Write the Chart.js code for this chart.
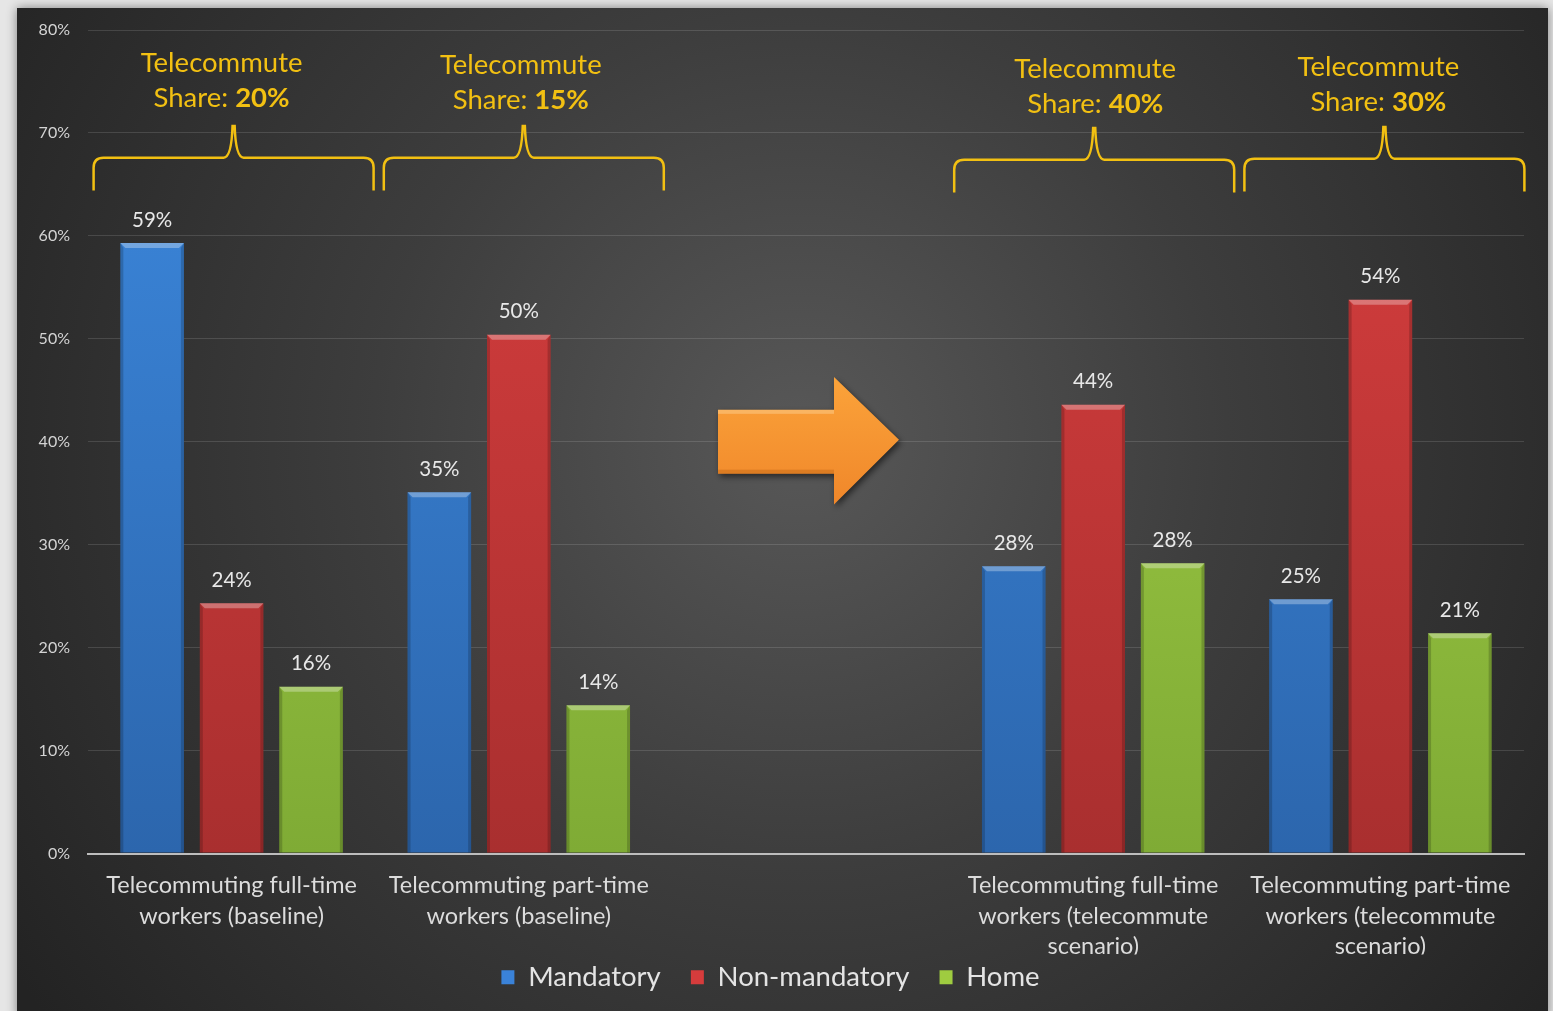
<!DOCTYPE html>
<html>
<head>
<meta charset="utf-8">
<script src="https://cdn.jsdelivr.net/npm/chart.js@4.4.1/dist/chart.umd.min.js"></script>
<style>
  html, body { margin: 0; padding: 0; background: #e4e4e4; }
  #wrap { width: 1553px; height: 1011px; position: relative; }
</style>
</head>
<body>
<div id="wrap"><canvas id="chart" width="1553" height="1011"></canvas></div>
<script>
// Categorias (a do meio fica vazia, é onde vai a seta)
const categories = [
    ['Telecommuting full-time', 'workers (baseline)'],
    ['Telecommuting part-time', 'workers (baseline)'],
    '',
    ['Telecommuting full-time', 'workers (telecommute', 'scenario)'],
    ['Telecommuting part-time', 'workers (telecommute', 'scenario)']
];

// Valores em %
const mandatory    = [59.3, 35.1, null, 27.9, 24.7];
const nonMandatory = [24.3, 50.4, null, 43.6, 53.8];
const home         = [16.2, 14.4, null, 28.2, 21.4];

// Participação do teletrabalho por grupo (chaves em cima das barras)
const shareCategory = [0, 1, 3, 4];
const shareValues   = [20, 15, 40, 30];

const yTicks = [0, 10, 20, 30, 40, 50, 60, 70, 80];

const FONT = 'Lato, "Open Sans", sans-serif';
const GOLD = '#f2c012';

// ajustes finos de cada chave: deslocamento da chave, do texto e vertical
const bracketDx = [2, 5, 1, 4];
const textDx    = [-12, -3, 1, -6];
const bracketDy = [0, 0, 2, 1];
const textDy    = [0, 2, 6, 4];

// Gradiente vertical para as barras
function barGradient(top, bottom) {
    return function(context) {
        const area = context.chart.chartArea;
        if (!area) return bottom;
        const g = context.chart.ctx.createLinearGradient(0, area.top, 0, area.bottom);
        g.addColorStop(0, top);
        g.addColorStop(1, bottom);
        return g;
    };
}

// Fundo: moldura clara + painel escuro com gradiente radial
const backgroundPlugin = {
    id: 'panelBackground',
    beforeDraw(chart) {
        const ctx = chart.ctx;
        ctx.save();
        ctx.fillStyle = '#e6e6e6';
        ctx.fillRect(0, 0, chart.width, chart.height);
        ctx.shadowColor = 'rgba(0,0,0,0.45)';
        ctx.shadowBlur = 10;
        ctx.fillStyle = '#2a2a2a';
        ctx.fillRect(17, 8, 1531, 1010);
        ctx.shadowBlur = 0;
        const g = ctx.createRadialGradient(800, 440, 0, 800, 440, 950);
        g.addColorStop(0, '#585858');
        g.addColorStop(0.45, '#3d3d3d');
        g.addColorStop(1, '#232323');
        ctx.fillStyle = g;
        ctx.fillRect(17, 8, 1531, 1010);
        ctx.restore();
    }
};

// Relevo das barras (borda de cima mais clara, laterais escuras)
const bevelPlugin = {
    id: 'barBevel',
    afterDatasetsDraw(chart) {
        const ctx = chart.ctx;
        ctx.save();
        chart.data.datasets.forEach((ds, i) => {
            chart.getDatasetMeta(i).data.forEach((bar, j) => {
                if (ds.data[j] == null) return;
                const p = bar.getProps(['x', 'y', 'base', 'width'], true);
                const l = p.x - p.width / 2, r = p.x + p.width / 2, t = p.y, b = p.base;
                const bev = 5;
                ctx.fillStyle = 'rgba(255,255,255,0.3)';
                ctx.beginPath();
                ctx.moveTo(l, t); ctx.lineTo(r, t); ctx.lineTo(r - bev, t + bev); ctx.lineTo(l + bev, t + bev);
                ctx.closePath(); ctx.fill();
                ctx.fillStyle = 'rgba(0,0,0,0.18)';
                ctx.beginPath();
                ctx.moveTo(l, t); ctx.lineTo(l + 3, t + bev); ctx.lineTo(l + 3, b); ctx.lineTo(l, b);
                ctx.closePath(); ctx.fill();
                ctx.beginPath();
                ctx.moveTo(r, t); ctx.lineTo(r - 3, t + bev); ctx.lineTo(r - 3, b); ctx.lineTo(r, b);
                ctx.closePath(); ctx.fill();
            });
        });
        ctx.restore();
    }
};

// Rótulos com o valor em cima de cada barra
const valueLabelPlugin = {
    id: 'valueLabels',
    afterDatasetsDraw(chart) {
        const ctx = chart.ctx;
        ctx.save();
        ctx.font = '20.5px ' + FONT;
        ctx.fillStyle = '#e8e8e8';
        ctx.textAlign = 'center';
        ctx.textBaseline = 'middle';
        chart.data.datasets.forEach((ds, i) => {
            chart.getDatasetMeta(i).data.forEach((bar, j) => {
                const v = ds.data[j];
                if (v == null) return;
                ctx.fillText(Math.round(v) + '%', bar.x, bar.y - 23);
            });
        });
        ctx.restore();
    }
};

// Chaves douradas com "Telecommute Share" e a seta laranja no meio
const annotationPlugin = {
    id: 'shareBrackets',
    afterDraw(chart) {
        const ctx = chart.ctx;
        const xs = chart.scales.x, ys = chart.scales.y;
        const half = 140;
        ctx.save();
        shareCategory.forEach((c, k) => {
            const cx = xs.getPixelForValue(c) + bracketDx[k];
            const dy = bracketDy[k];
            const yLine = ys.getPixelForValue(67.6) + dy;
            const yTop = ys.getPixelForValue(70.8) + dy;
            const yBot = ys.getPixelForValue(64.4) + dy;
            const rr = 10;
            ctx.strokeStyle = GOLD;
            ctx.lineWidth = 2.5;
            ctx.beginPath();
            ctx.moveTo(cx - half, yBot);
            ctx.lineTo(cx - half, yLine + rr);
            ctx.quadraticCurveTo(cx - half, yLine, cx - half + rr, yLine);
            ctx.lineTo(cx - 10, yLine);
            ctx.quadraticCurveTo(cx - 2, yLine, cx - 1, yTop);
            ctx.moveTo(cx + 1, yTop);
            ctx.quadraticCurveTo(cx + 2, yLine, cx + 10, yLine);
            ctx.lineTo(cx + half - rr, yLine);
            ctx.quadraticCurveTo(cx + half, yLine, cx + half, yLine + rr);
            ctx.lineTo(cx + half, yBot);
            ctx.stroke();

            const tx = cx + textDx[k];
            ctx.fillStyle = GOLD;
            ctx.textBaseline = 'middle';
            ctx.textAlign = 'center';
            ctx.font = '27.5px ' + FONT;
            ctx.fillText('Telecommute', tx, ys.getPixelForValue(76.8) + textDy[k]);
            const y2 = ys.getPixelForValue(73.4) + textDy[k];
            const a = 'Share: ', b = shareValues[k] + '%';
            const wa = ctx.measureText(a).width;
            ctx.font = 'bold 27.5px ' + FONT;
            const wb = ctx.measureText(b).width;
            const x0 = tx - (wa + wb) / 2;
            ctx.textAlign = 'left';
            ctx.font = '27.5px ' + FONT;
            ctx.fillText(a, x0, y2);
            ctx.font = 'bold 27.5px ' + FONT;
            ctx.fillText(b, x0 + wa, y2);
        });

        // seta
        const ax = xs.getPixelForValue(2);
        const x1 = ax - 88, xh = ax + 28, x2 = ax + 93;
        const bt = ys.getPixelForValue(43.1), bb = ys.getPixelForValue(36.9);
        const ht = ys.getPixelForValue(46.3), hb = ys.getPixelForValue(33.9);
        const tip = ys.getPixelForValue(40.2);
        ctx.shadowColor = 'rgba(0,0,0,0.55)';
        ctx.shadowBlur = 6;
        ctx.shadowOffsetX = 2;
        ctx.shadowOffsetY = 3;
        const g = ctx.createLinearGradient(0, ht, 0, hb);
        g.addColorStop(0, '#fba33a');
        g.addColorStop(1, '#f0872a');
        ctx.fillStyle = g;
        ctx.beginPath();
        ctx.moveTo(x1, bt); ctx.lineTo(xh, bt); ctx.lineTo(xh, ht); ctx.lineTo(x2, tip);
        ctx.lineTo(xh, hb); ctx.lineTo(xh, bb); ctx.lineTo(x1, bb);
        ctx.closePath(); ctx.fill();
        ctx.shadowColor = 'transparent';
        ctx.fillStyle = 'rgba(255,230,180,0.35)';
        ctx.fillRect(x1, bt, xh - x1, 4);
        ctx.fillStyle = 'rgba(150,70,0,0.25)';
        ctx.fillRect(x1, bb - 4, xh - x1, 4);
        ctx.restore();
    }
};

new Chart(document.getElementById('chart'), {
    type: 'bar',
    data: {
        labels: categories,
        datasets: [
            { label: 'Mandatory', data: mandatory, backgroundColor: barGradient('#3d8ae0', '#2c66ad') },
            { label: 'Non-mandatory', data: nonMandatory, backgroundColor: barGradient('#dc4040', '#a92f2f') },
            { label: 'Home', data: home, backgroundColor: barGradient('#a8d449', '#7fab35') }
        ]
    },
    options: {
        responsive: false,
        animation: false,
        devicePixelRatio: 1,
        layout: { padding: { left: 17, right: 29, top: 30, bottom: 10 } },
        datasets: { bar: { barPercentage: 0.8, categoryPercentage: 0.83 } },
        plugins: {
            tooltip: { enabled: false },
            legend: {
                position: 'bottom',
                labels: {
                    color: '#e4e4e4',
                    font: { family: FONT, size: 27.5 },
                    boxWidth: 13,
                    boxHeight: 14,
                    padding: 9,
                    generateLabels(chart) {
                        const fills = ['#3a82d8', '#d63c3c', '#9fcc40'];
                        const n = chart.data.datasets.length;
                        // espaço extra entre os itens (menos no último)
                        return chart.data.datasets.map((ds, i) => ({
                            text: ds.label + (i < n - 1 ? '   ' : ''),
                            fillStyle: fills[i], strokeStyle: fills[i],
                            lineWidth: 0, fontColor: '#e4e4e4', datasetIndex: i
                        }));
                    }
                }
            }
        },
        scales: {
            x: {
                grid: { display: false, drawTicks: false },
                border: { display: true, color: '#bdbdbd', width: 2 },
                ticks: {
                    color: '#dcdcdc',
                    font: { family: FONT, size: 23.5, lineHeight: 1.3 },
                    padding: 17,
                    maxRotation: 0,
                    autoSkip: false
                },
                afterFit(scale) { scale.height = 101; }
            },
            y: {
                min: 0,
                max: 80,
                afterBuildTicks(scale) { scale.ticks = yTicks.map(v => ({ value: v })); },
                grid: {
                    drawTicks: false,
                    color: ctx => ctx.tick && ctx.tick.value === 0 ? '#bdbdbd' : 'rgba(255,255,255,0.13)',
                    lineWidth: ctx => ctx.tick && ctx.tick.value === 0 ? 2 : 1
                },
                border: { display: false },
                ticks: {
                    color: '#d4d4d4',
                    font: { family: FONT, size: 16 },
                    padding: 18,
                    callback: v => v + '%'
                },
                afterFit(scale) { scale.width = 71; }
            }
        }
    },
    plugins: [backgroundPlugin, bevelPlugin, valueLabelPlugin, annotationPlugin]
});
</script>
</body>
</html>
